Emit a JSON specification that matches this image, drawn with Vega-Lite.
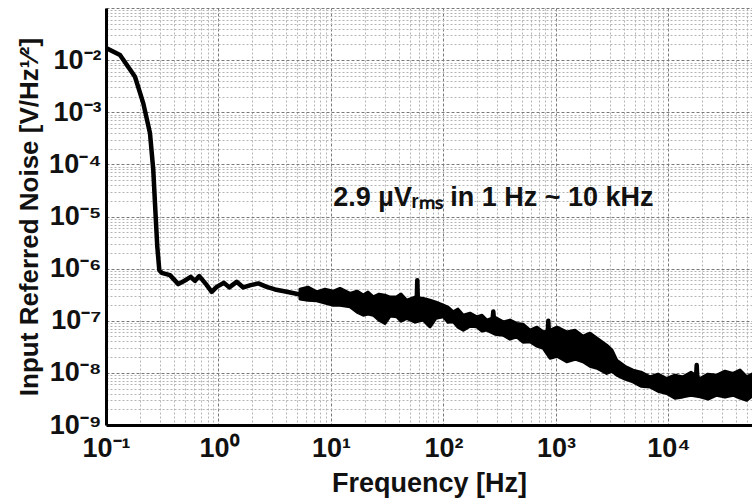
{
  "$schema": "https://vega.github.io/schema/vega-lite/v6.json",
  "width": 646,
  "height": 417,
  "autosize": {"type": "none"},
  "padding": {"left": 106, "top": 8, "right": 0, "bottom": 78},
  "background": "white",
  "config": {
    "view": {"stroke": null},
    "font": "Liberation Sans",
    "axis": {
      "labelFont": "Liberation Sans",
      "titleFont": "Liberation Sans",
      "labelFontWeight": "bold",
      "titleFontWeight": "bold",
      "labelColor": "#111",
      "titleColor": "#111",
      "labelFontSize": 27,
      "titleFontSize": 27,
      "ticks": false,
      "domainColor": "#000",
      "domainWidth": 3,
      "labelOverlap": false,
      "labelFlush": false,
      "labelBound": false,
      "gridColor": {"condition": {"test": "abs(log(datum.value)/LN10 - round(log(datum.value)/LN10)) < 0.01", "value": "#7a7a7a"}, "value": "#b4b4b4"},
      "gridDash": {"condition": {"test": "abs(log(datum.value)/LN10 - round(log(datum.value)/LN10)) < 0.01", "value": [3, 2]}, "value": [2, 2]},
      "gridWidth": 1
    }
  },
  "datasets": {
    "noise": [
      {"f": 0.1014, "v": 0.01684},
      {"f": 0.1332, "v": 0.01253},
      {"f": 0.181, "v": 0.0048},
      {"f": 0.2146, "v": 0.00148},
      {"f": 0.2461, "v": 0.000394},
      {"f": 0.2632, "v": 0.0000778},
      {"f": 0.2765, "v": 0.00000986},
      {"f": 0.2858, "v": 0.00000262},
      {"f": 0.2977, "v": 9.35e-7},
      {"f": 0.3126, "v": 8.31e-7},
      {"f": 0.3705, "v": 7.5e-7},
      {"f": 0.4392, "v": 5.04e-7},
      {"f": 0.5217, "v": 6.2e-7},
      {"f": 0.5661, "v": 6.96e-7},
      {"f": 0.6181, "v": 5.83e-7},
      {"f": 0.6751, "v": 7.18e-7},
      {"f": 0.7743, "v": 5.04e-7},
      {"f": 0.8702, "v": 3.59e-7},
      {"f": 0.9638, "v": 4.47e-7},
      {"f": 1.119, "v": 5.34e-7},
      {"f": 1.247, "v": 4.36e-7},
      {"f": 1.451, "v": 5.58e-7},
      {"f": 1.661, "v": 4.36e-7},
      {"f": 1.932, "v": 4.82e-7},
      {"f": 2.258, "v": 5.2e-7},
      {"f": 2.682, "v": 4.47e-7},
      {"f": 3.178, "v": 3.99e-7},
      {"f": 4.039, "v": 3.59e-7},
      {"f": 5.3, "v": 3.2e-7},
      {"f": 7.46, "v": 2.94e-7},
      {"f": 10.48, "v": 2.71e-7},
      {"f": 12.45, "v": 2.72e-7},
      {"f": 14.76, "v": 2.49e-7},
      {"f": 20.77, "v": 1.88e-7},
      {"f": 29.16, "v": 1.68e-7},
      {"f": 41.06, "v": 1.9e-7},
      {"f": 53.9, "v": 1.74e-7},
      {"f": 57.6, "v": 1.9e-7},
      {"f": 58.5, "v": 6.0e-7},
      {"f": 59.4, "v": 1.9e-7},
      {"f": 81.17, "v": 1.38e-7},
      {"f": 99.6, "v": 1.49e-7},
      {"f": 131.0, "v": 1.03e-7},
      {"f": 184.1, "v": 9.54e-8},
      {"f": 270.0, "v": 8.0e-8},
      {"f": 277.2, "v": 1.5e-7},
      {"f": 284.0, "v": 7.68e-8},
      {"f": 390.1, "v": 6.6e-8},
      {"f": 628.4, "v": 4.56e-8},
      {"f": 835.0, "v": 3.6e-8},
      {"f": 854.3, "v": 9.96e-8},
      {"f": 873.0, "v": 3.53e-8},
      {"f": 1245, "v": 3.16e-8},
      {"f": 1748, "v": 2.84e-8},
      {"f": 2461, "v": 2.03e-8},
      {"f": 3020, "v": 1.63e-8},
      {"f": 3706, "v": 1.13e-8},
      {"f": 4866, "v": 8.71e-9},
      {"f": 6848, "v": 6.71e-9},
      {"f": 9638, "v": 5.4e-9},
      {"f": 13540, "v": 5.38e-9},
      {"f": 17400, "v": 5.2e-9},
      {"f": 17810, "v": 1.41e-8},
      {"f": 18200, "v": 5.2e-9},
      {"f": 26820, "v": 5.8e-9},
      {"f": 37670, "v": 6.26e-9},
      {"f": 49560, "v": 5.01e-9},
      {"f": 55240, "v": 5.0e-9}
    ],
    "band": [
      {"f": 5.3, "hi": 4.04e-7, "lo": 2.6e-7},
      {"f": 6.245, "hi": 4.415e-7, "lo": 2.48e-7},
      {"f": 7.46, "hi": 3.59e-7, "lo": 2.41e-7},
      {"f": 8.845, "hi": 4.04e-7, "lo": 2.18e-7},
      {"f": 10.48, "hi": 3.7e-7, "lo": 1.99e-7},
      {"f": 12.02, "hi": 4.17e-7, "lo": 1.99e-7},
      {"f": 14.76, "hi": 3.34e-7, "lo": 1.85e-7},
      {"f": 17.02, "hi": 3.7e-7, "lo": 1.46e-7},
      {"f": 19.37, "hi": 3.1e-7, "lo": 1.28e-7},
      {"f": 21.33, "hi": 3.54e-7, "lo": 1.34e-7},
      {"f": 23.77, "hi": 2.87e-7, "lo": 1.28e-7},
      {"f": 26.71, "hi": 3.24e-7, "lo": 1.03e-7},
      {"f": 30.2, "hi": 3.1e-7, "lo": 8.88e-8},
      {"f": 33.45, "hi": 2.84e-7, "lo": 1.23e-7},
      {"f": 38.37, "hi": 2.87e-7, "lo": 1.19e-7},
      {"f": 41.91, "hi": 3.24e-7, "lo": 9.82e-8},
      {"f": 47.1, "hi": 2.48e-7, "lo": 1.11e-7},
      {"f": 55.8, "hi": 2.84e-7, "lo": 9.4e-8},
      {"f": 66.13, "hi": 2.68e-7, "lo": 1.03e-7},
      {"f": 75.86, "hi": 2.48e-7, "lo": 7.63e-8},
      {"f": 85.77, "hi": 2.28e-7, "lo": 1.12e-7},
      {"f": 99.59, "hi": 1.99e-7, "lo": 1.19e-7},
      {"f": 109.6, "hi": 1.82e-7, "lo": 9.4e-8},
      {"f": 122.2, "hi": 1.48e-7, "lo": 9.52e-8},
      {"f": 134.6, "hi": 1.67e-7, "lo": 7.54e-8},
      {"f": 150.0, "hi": 1.28e-7, "lo": 6.6e-8},
      {"f": 172.0, "hi": 1.4e-7, "lo": 7.88e-8},
      {"f": 197.3, "hi": 1.19e-7, "lo": 7.63e-8},
      {"f": 219.9, "hi": 1.28e-7, "lo": 6.32e-8},
      {"f": 242.1, "hi": 1.03e-7, "lo": 6.6e-8},
      {"f": 286.9, "hi": 1.17e-7, "lo": 5.53e-8},
      {"f": 340.1, "hi": 9.52e-8, "lo": 5.29e-8},
      {"f": 390.1, "hi": 1.03e-7, "lo": 4.43e-8},
      {"f": 447.4, "hi": 8.88e-8, "lo": 4.91e-8},
      {"f": 508.8, "hi": 8.6e-8, "lo": 3.88e-8},
      {"f": 587.2, "hi": 6.6e-8, "lo": 3.94e-8},
      {"f": 677.9, "hi": 7.54e-8, "lo": 3.25e-8},
      {"f": 771.5, "hi": 6.12e-8, "lo": 2.94e-8},
      {"f": 884.7, "hi": 6.6e-8, "lo": 1.91e-8},
      {"f": 1021, "hi": 7.54e-8, "lo": 2.09e-8},
      {"f": 1245, "hi": 6.12e-8, "lo": 1.63e-8},
      {"f": 1476, "hi": 6.6e-8, "lo": 1.83e-8},
      {"f": 1738, "hi": 5.06e-8, "lo": 1.63e-8},
      {"f": 2006, "hi": 5.78e-8, "lo": 1.34e-8},
      {"f": 2314, "hi": 4.63e-8, "lo": 1.23e-8},
      {"f": 2823, "hi": 3.4e-8, "lo": 9.74e-9},
      {"f": 3147, "hi": 2.73e-8, "lo": 1.08e-8},
      {"f": 3465, "hi": 1.75e-8, "lo": 9.03e-9},
      {"f": 4106, "hi": 1.34e-8, "lo": 7.57e-9},
      {"f": 4836, "hi": 1.13e-8, "lo": 6.72e-9},
      {"f": 5695, "hi": 1.03e-8, "lo": 5.56e-9},
      {"f": 6848, "hi": 8.38e-9, "lo": 5.38e-9},
      {"f": 8066, "hi": 9.44e-9, "lo": 4.45e-9},
      {"f": 9638, "hi": 7.81e-9, "lo": 4.02e-9},
      {"f": 11420, "hi": 9.03e-9, "lo": 3.27e-9},
      {"f": 13460, "hi": 8.38e-9, "lo": 3.46e-9},
      {"f": 15850, "hi": 1.03e-8, "lo": 3.73e-9},
      {"f": 19050, "hi": 7.81e-9, "lo": 3.46e-9},
      {"f": 22440, "hi": 9.44e-9, "lo": 3.13e-9},
      {"f": 26820, "hi": 9.03e-9, "lo": 3.73e-9},
      {"f": 31780, "hi": 1.08e-8, "lo": 3.42e-9},
      {"f": 37440, "hi": 9.74e-9, "lo": 3.73e-9},
      {"f": 43210, "hi": 1.13e-8, "lo": 3.27e-9},
      {"f": 49560, "hi": 8.38e-9, "lo": 2.99e-9},
      {"f": 55240, "hi": 9.44e-9, "lo": 3.57e-9}
    ],
    "note": [
      {"label": "2.9 µVᵣₘₛ in 1 Hz ~ 10 kHz", "f": 278, "v": 2.25e-5}
    ]
  },
  "encoding": {
    "x": {
      "field": "f",
      "type": "quantitative",
      "scale": {"type": "log", "domain": [0.1, 55240], "nice": false},
      "axis": {
        "title": "Frequency [Hz]",
        "titlePadding": 9,
        "labelPadding": 10,
        "values": [0.1,0.2,0.3,0.4,0.5,0.6,0.7,0.8,0.9,1,2,3,4,5,6,7,8,9,10,20,30,40,50,60,70,80,90,100,200,300,400,500,600,700,800,900,1000,2000,3000,4000,5000,6000,7000,8000,9000,10000,20000,30000,40000,50000],
        "labelExpr": "abs(log(datum.value)/LN10 - round(log(datum.value)/LN10)) < 0.01 ? '10' + (round(log(datum.value)/LN10) < 0 ? '⁻' : '') + ['⁰','¹','²','³','⁴','⁵','⁶','⁷','⁸','⁹'][abs(round(log(datum.value)/LN10))] : ''"
      }
    },
    "y": {
      "field": "v",
      "type": "quantitative",
      "scale": {"type": "log", "domain": [1e-9, 0.1], "nice": false},
      "axis": {
        "title": "Input Referred Noise [V/Hz¹⁄²]",
        "titleFontSize": 26,
        "titlePadding": 6,
        "labelPadding": 5,
        "values": [1e-9,2e-9,3e-9,4e-9,5e-9,6e-9,7e-9,8e-9,9e-9,1e-8,2e-8,3e-8,4e-8,5e-8,6e-8,7e-8,8e-8,9e-8,1e-7,2e-7,3e-7,4e-7,5e-7,6e-7,7e-7,8e-7,9e-7,1e-6,2e-6,3e-6,4e-6,5e-6,6e-6,7e-6,8e-6,9e-6,1e-5,2e-5,3e-5,4e-5,5e-5,6e-5,7e-5,8e-5,9e-5,1e-4,2e-4,3e-4,4e-4,5e-4,6e-4,7e-4,8e-4,9e-4,1e-3,2e-3,3e-3,4e-3,5e-3,6e-3,7e-3,8e-3,9e-3,1e-2,2e-2,3e-2,4e-2,5e-2,6e-2,7e-2,8e-2,9e-2,0.1],
        "labelExpr": "datum.value > 0.05 ? '' : abs(log(datum.value)/LN10 - round(log(datum.value)/LN10)) < 0.01 ? '10' + (round(log(datum.value)/LN10) < 0 ? '⁻' : '') + ['⁰','¹','²','³','⁴','⁵','⁶','⁷','⁸','⁹'][abs(round(log(datum.value)/LN10))] : ''"
      }
    }
  },
  "layer": [
    {
      "data": {"name": "band"},
      "mark": {"type": "area", "color": "#000", "stroke": "#000", "strokeWidth": 3, "strokeJoin": "round", "clip": true},
      "encoding": {
        "y": {"field": "hi", "type": "quantitative"},
        "y2": {"field": "lo"}
      }
    },
    {
      "data": {"name": "noise"},
      "mark": {"type": "line", "color": "#000", "strokeWidth": 4.5, "strokeJoin": "round", "clip": true},
      "encoding": {}
    },
    {
      "data": {"name": "note"},
      "mark": {"type": "text", "fontSize": 27, "fontWeight": "bold", "font": "Liberation Sans", "color": "#111", "align": "center", "baseline": "middle"},
      "encoding": {"text": {"field": "label"}}
    },
    {
      "mark": {"type": "rule", "color": "#000", "strokeWidth": 3},
      "encoding": {"y": {"datum": 0.1}, "x": null}
    }
  ]
}
